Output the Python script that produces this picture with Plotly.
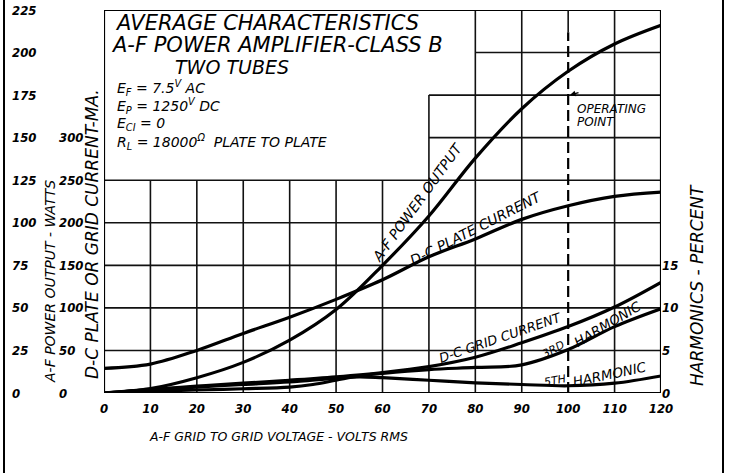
import plotly.graph_objects as go

# ---------------- data ----------------
volts = [0, 10, 20, 30, 40, 50, 60, 70, 80, 90, 100, 110, 120]
power_w = [0, 2.6, 9, 18, 31, 49, 75, 104, 138, 167, 189, 205, 216]
plate_ma = [29, 34, 50, 70, 89, 110, 133, 160, 181, 204, 220, 231, 236]
grid_ma = [0, 4, 8, 11.5, 15, 19, 24, 31, 42, 59, 78, 101, 130]

h3_volts = [0, 10, 20, 30, 40, 45, 50, 55, 60, 70, 80, 90, 100, 110, 120]
h3_pct = [0, 0.2, 0.35, 0.5, 0.7, 1.0, 1.5, 2.0, 2.3, 2.75, 3.0, 3.3, 5.1, 7.8, 9.9]
h5_volts = [0, 10, 20, 30, 40, 50, 55, 60, 70, 80, 90, 100, 110, 120]
h5_pct = [0, 0.4, 0.7, 1.0, 1.3, 1.75, 1.9, 1.8, 1.5, 1.2, 1.0, 0.85, 1.15, 2.0]

x_ticks = list(range(0, 121, 10))
power_ticks = list(range(0, 226, 25))
current_ticks = list(range(0, 301, 50))
harm_ticks = [0, 5, 10, 15]
operating_volts = 100

W, H = 729, 473
L, R, T, B = 104, 661, 10, 393
FONT = "DejaVu Sans"
FONT_C = "DejaVu Sans Condensed, DejaVu Sans"


def px(x):
    return x / W


def py(y):
    return (B - y) / (B - T)


fig = go.Figure()
line = dict(color="black", width=3.2)
fig.add_trace(go.Scatter(x=volts, y=power_w, mode="lines", line=line,
                         line_shape="spline", yaxis="y", showlegend=False))
fig.add_trace(go.Scatter(x=volts, y=plate_ma, mode="lines", line=line,
                         line_shape="spline", yaxis="y2", showlegend=False))
fig.add_trace(go.Scatter(x=volts, y=grid_ma, mode="lines", line=line,
                         line_shape="spline", yaxis="y2", showlegend=False))
fig.add_trace(go.Scatter(x=h3_volts, y=h3_pct, mode="lines", line=line,
                         line_shape="spline", yaxis="y3", showlegend=False))
fig.add_trace(go.Scatter(x=h5_volts, y=h5_pct, mode="lines", line=line,
                         line_shape="spline", yaxis="y3", showlegend=False))

shapes = []
gl = dict(color="#111", width=1.6)
# vertical grid lines (partial, leaving the title block empty)
for v in x_ticks[1:-1]:
    if v == operating_volts:
        continue
    top = 125 if v <= 60 else (175 if v == 70 else 225)
    shapes.append(dict(type="line", xref="x", yref="y", x0=v, x1=v, y0=0, y1=top,
                       line=gl, layer="below"))
# horizontal grid lines
for p in power_ticks[1:-1]:
    start = 0 if p <= 125 else (70 if p <= 175 else 80)
    shapes.append(dict(type="line", xref="x", yref="y", x0=start, x1=120, y0=p, y1=p,
                       line=gl, layer="below"))
# frame
shapes.append(dict(type="rect", xref="x", yref="y", x0=0, x1=120, y0=0, y1=225,
                   line=dict(color="black", width=2.2), layer="below"))
# operating point dashed line
shapes.append(dict(type="line", xref="x", yref="y", x0=operating_volts, x1=operating_volts,
                   y0=0, y1=212, line=dict(color="black", width=2.2, dash="11px,5px")))
shapes.append(dict(type="line", xref="x", yref="y", x0=operating_volts, x1=operating_volts,
                   y0=212, y1=225, line=gl))
# page border lines of the scan
for xp in (4, 723):
    shapes.append(dict(type="line", xref="paper", yref="paper", x0=px(xp), x1=px(xp),
                       y0=py(0), y1=py(473), line=dict(color="black", width=2)))

tickfont = dict(family=FONT_C, size=13, color="black", style="italic", weight="bold")
common = dict(showgrid=False, zeroline=False, showline=False, ticks="",
              tickfont=tickfont, automargin=False)

fig.update_layout(
    width=W, height=H,
    margin=dict(l=0, r=0, t=T, b=H - B, pad=0, autoexpand=False),
    paper_bgcolor="white", plot_bgcolor="white",
    xaxis=dict(range=[0, 120], domain=[px(L), px(R)], tickvals=x_ticks, anchor="y",
               ticklabelstandoff=6, **common),
    yaxis=dict(range=[0, 225], domain=[0, 1], tickvals=power_ticks, anchor="free",
               position=px(11), side="right", **common),
    yaxis2=dict(range=[0, 450], tickvals=current_ticks, overlaying="y", anchor="free",
                position=px(58), side="right", **common),
    yaxis3=dict(range=[0, 45], tickvals=harm_ticks, overlaying="y", anchor="x",
                side="right", **common),
    shapes=shapes,
)

ann = []


def text(t, x, y, size, xanchor="left", angle=0, xref="paper", yref="paper",
         family=FONT, **kw):
    ann.append(dict(text=t, x=x, y=y, xref=xref, yref=yref, showarrow=False,
                    xanchor=xanchor, yanchor="middle", textangle=angle,
                    font=dict(size=size, family=family, color="black", style="italic"),
                    **kw))


# title block
text("AVERAGE CHARACTERISTICS", px(113), py(23), 21)
text("A-F POWER AMPLIFIER-CLASS B", px(109), py(45), 21)
text("TWO TUBES", px(232), py(67), 19, xanchor="center")
text("E<sub>F</sub> = 7.5<sup>V</sup> AC", px(115), py(88), 14)
text("E<sub>P</sub> = 1250<sup>V</sup> DC", px(115), py(106), 14)
text("E<sub>CI</sub> = 0", px(115), py(124), 14)
text("R<sub>L</sub> = 18000<sup>Ω</sup>  PLATE TO PLATE", px(115), py(142), 14)

# axis titles
text("A-F GRID TO GRID VOLTAGE - VOLTS RMS", px(278), py(436), 12.5, xanchor="center")
text("A-F POWER OUTPUT - WATTS", px(50), py(282), 14, xanchor="center", angle=-90)
text("D-C PLATE OR GRID CURRENT-MA.", px(92), py(234), 17, xanchor="center", angle=-90)
text("HARMONICS - PERCENT", px(697), py(285), 17, xanchor="center", angle=-90)

# curve labels (data coordinates)
text("A-F POWER OUTPUT", 67.6, 112, 14, xanchor="center", angle=-54, xref="x", yref="y")
text("D-C PLATE CURRENT", 80.2, 97, 14, xanchor="center", angle=-27, xref="x", yref="y")
text("D-C GRID CURRENT", 85.5, 32.5, 13, xanchor="center", angle=-19, xref="x", yref="y")
text("3RD", 96.8, 25.5, 11, xanchor="center", angle=-29, xref="x", yref="y")
text("HARMONIC", 108.4, 40.5, 13.5, xanchor="center", angle=-31, xref="x", yref="y")
text("5TH", 97.2, 7.2, 11, xanchor="center", angle=-10, xref="x", yref="y")
text("HARMONIC", 109, 11.2, 13.5, xanchor="center", angle=-12, xref="x", yref="y")

# operating point
text("OPERATING", px(575), py(109), 12)
text("POINT", px(575), py(122), 12)
ann.append(dict(x=operating_volts + 0.4, y=175, xref="x", yref="y", ax=10, ay=-3,
                showarrow=True, arrowhead=2, arrowsize=0.8, arrowwidth=1.4,
                arrowcolor="black", text=""))

fig.update_layout(annotations=ann)
fig.write_html("out.html",
               config={"displayModeBar": False},
               post_script="document.body.style.margin='0';"
                           "document.body.style.overflow='hidden';")
